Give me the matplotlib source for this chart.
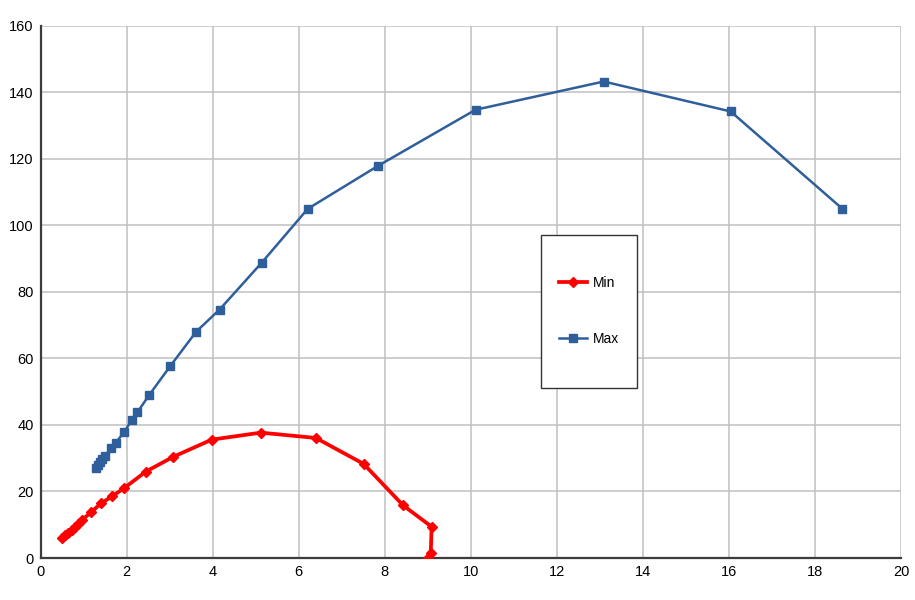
import matplotlib
matplotlib.use("Agg")
import matplotlib.pyplot as plt
from matplotlib.patches import Rectangle

plt.rcParams['font.family'] = ['Liberation Sans', 'DejaVu Sans']

# Min series (red)
min_x = [0.49, 0.56, 0.64, 0.72, 0.80, 0.88, 0.97, 1.17, 1.40, 1.66, 1.95,
         2.45, 3.08, 3.98, 5.12, 6.40, 7.51, 8.43, 9.09, 9.07, 9.00]
min_y = [6.0, 6.8, 7.6, 8.5, 9.4, 10.3, 11.5, 13.7, 16.4, 18.5, 21.1,
         26.0, 30.4, 35.6, 37.7, 36.1, 28.3, 15.8, 9.4, 1.5, 0.1]

# Max series (blue)
max_x = [1.30, 1.34, 1.38, 1.43, 1.51, 1.64, 1.75, 1.94, 2.12, 2.25, 2.53,
         3.02, 3.62, 4.16, 5.14, 6.21, 7.84, 10.11, 13.09, 16.04, 18.64]
max_y = [27.2, 28.0, 28.8, 29.7, 30.8, 33.0, 34.7, 37.8, 41.5, 43.8, 49.1,
         57.8, 68.1, 74.7, 88.8, 105.0, 117.9, 134.8, 143.3, 134.3, 105.0]

x_ticks = list(range(0, 21, 2))
y_ticks = list(range(0, 161, 20))

fig = plt.figure(figsize=(9.15, 6.0), dpi=100)
ax = fig.add_axes([0.0443, 0.07, 0.9404, 0.8867])

ax.plot(min_x, min_y, color='#ff0000', lw=2.7, marker='D', markersize=5,
        label='Min', zorder=3)
ax.plot(max_x, max_y, color='#2e5f9a', lw=1.8, marker='s', markersize=5.5,
        label='Max', zorder=3)

ax.set_xlim(0, 20)
ax.set_ylim(0, 160)
ax.set_xticks(x_ticks)
ax.set_yticks(y_ticks)
ax.grid(True, color='#c0c0c0', lw=1.1)
ax.set_axisbelow(True)
ax.tick_params(length=0, labelsize=10.5, colors='black', pad=5)

for s in ['top', 'right']:
    ax.spines[s].set_visible(False)
for s in ['left', 'bottom']:
    ax.spines[s].set_color('#3c3c3c')
    ax.spines[s].set_linewidth(1.6)

# legend box
ax.add_patch(Rectangle((0.582, 0.320), 0.111, 0.288, transform=ax.transAxes,
                       facecolor='white', edgecolor='#333333', lw=1.0, zorder=4))
ax.legend(loc='center', bbox_to_anchor=(0.582, 0.320, 0.111, 0.288),
          frameon=False, fontsize=10, labelspacing=3.0, handlelength=2.0,
          handletextpad=0.4, borderpad=0)
ax.get_legend().set_zorder(5)

fig.savefig('out.png', dpi=100)
